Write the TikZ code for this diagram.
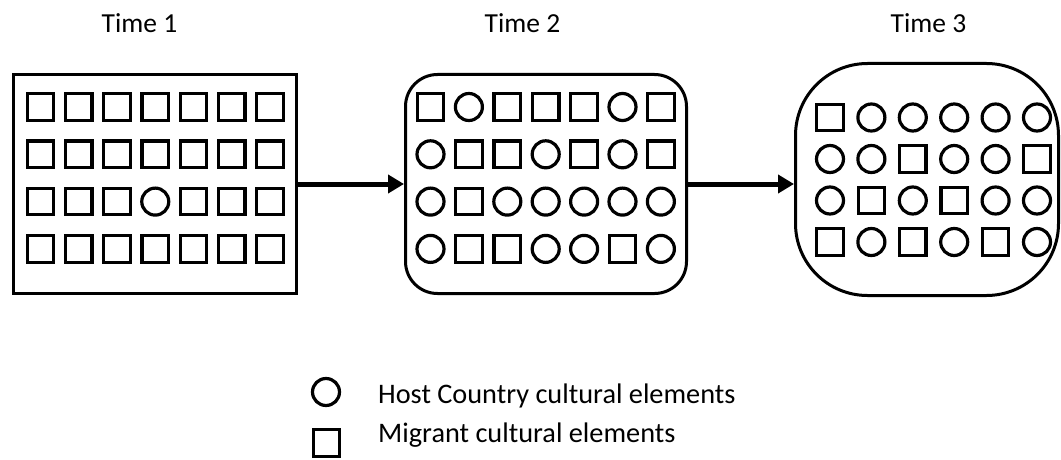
\documentclass[tikz,border=0pt]{standalone}
\usepackage{fontspec}
\setmainfont{Carlito}
\usetikzlibrary{arrows.meta}
\tikzset{
  elbase/.style={draw, line width=3.2pt, inner sep=0pt, minimum size=26.5pt},
  els/.style={elbase, rectangle},
  elc/.style={elbase, circle, minimum size=27pt},
  frame/.style={draw, line width=3pt, inner sep=0pt},
  flow/.style={line width=5pt, -{Triangle[length=16pt,width=18pt]}},
  title/.style={anchor=base, inner sep=0pt, font=\fontsize{27.5}{32}\selectfont},
  legtext/.style={anchor=base west, inner sep=0pt, font=\fontsize{28.3}{32}\selectfont},
}
\begin{document}
\begin{tikzpicture}[x=1pt, y=-1pt]
\useasboundingbox (0,0) rectangle (1061,460);

% headings
\node[title] (t1) at (139.5,33) {Time 1};
\node[title] (t2) at (522.5,33) {Time 2};
\node[title] (t3) at (928.5,33) {Time 3};

% the three stages
\node[frame, minimum width=283pt, minimum height=219pt] (box1) at (155,184) {};
\node[frame, rounded corners=32pt, minimum width=281pt, minimum height=219pt] (box2) at (546,184) {};
\node[frame, rounded corners=72pt, minimum width=263pt, minimum height=232pt] (box3) at (927,179.5) {};

% Time 1: migrant elements with a single host element
\foreach \row [count=\j] in {
  {s,s,s,s,s,s,s},
  {s,s,s,s,s,s,s},
  {s,s,s,c,s,s,s},
  {s,s,s,s,s,s,s}} {
  \foreach \t [count=\i] in \row
    \node[el\t] (a-\j-\i) at ({40.5+38.25*(\i-1)},{107+47.3*(\j-1)}) {};
}

% Time 2: mixed
\foreach \row [count=\j] in {
  {s,c,s,s,s,c,s},
  {c,s,s,c,s,c,s},
  {c,s,c,c,c,c,c},
  {c,s,s,c,c,s,c}} {
  \foreach \t [count=\i] in \row
    \node[el\t] (b-\j-\i) at ({430.5+38.4*(\i-1)},{107+47.3*(\j-1)}) {};
}

% Time 3: mostly host elements
\foreach \row [count=\j] in {
  {s,c,c,c,c,c},
  {c,c,s,c,c,s},
  {c,s,c,s,c,c},
  {s,c,s,c,s,c}} {
  \foreach \t [count=\i] in \row
    \node[el\t] (c-\j-\i) at ({830+41.4*(\i-1)},{117.5+41.5*(\j-1)}) {};
}

% transitions
\draw[flow] (box1.east) -- (box2.west);
\draw[flow] (box2.east) -- (box2.east -| box3.west);

% legend
\node[elc] (lc) at (326,392) {};
\node[legtext] (lct) at (378,403) {Host Country cultural elements};
\node[els] (ls) at (326.5,443) {};
\node[legtext] (lst) at (378,442) {Migrant cultural elements};
\end{tikzpicture}
\end{document}
